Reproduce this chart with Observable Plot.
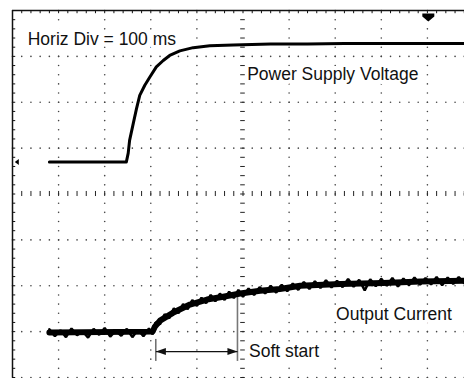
<!DOCTYPE html>
<html>
<head>
<meta charset="utf-8">
<script src="https://cdn.jsdelivr.net/npm/d3@7"></script>
<script src="https://cdn.jsdelivr.net/npm/@observablehq/plot@0.6"></script>
<style>
  html, body { margin: 0; padding: 0; background: #fff; }
  #chart svg { display: block; }
</style>
</head>
<body>
<div id="chart"></div>
<script>
// Scope capture, units are screen divisions (x: 100 ms/div, y: volts or amps/div).

// Channel 1: power supply voltage
const supplyTime    = [0.80, 2.47, 2.51, 2.54, 2.62, 2.69, 2.76, 2.87, 2.98, 3.12, 3.27, 3.41, 3.63, 3.92, 4.28, 4.79, 5.60, 6.40, 7.20, 8.00, 8.80, 9.80];
const supplyVoltage = [0.70, 0.70, 0.89, 1.17, 1.54, 1.86, 2.15, 2.37, 2.55, 2.77, 2.91, 3.02, 3.12, 3.19, 3.23, 3.25, 3.27, 3.27, 3.28, 3.28, 3.28, 3.28];

// Channel 2: output current, smoothed trend
const currentTime  = [0.80, 3.04, 3.09, 3.20, 3.48, 3.85, 4.22, 4.57, 4.94, 5.37, 5.80, 6.24, 7.11, 8.04, 8.85, 9.90];
const currentLevel = [-3.02, -3.00, -2.89, -2.76, -2.59, -2.41, -2.30, -2.24, -2.17, -2.11, -2.07, -2.00, -1.96, -1.94, -1.91, -1.89];

// Channel 2: raw samples (noisy)
const rawTime = [0.80, 0.92, 1.04, 1.16, 1.28, 1.40, 1.52, 1.64, 1.76, 1.88, 2.00, 2.12, 2.24, 2.36, 2.48, 2.60, 2.72, 2.84, 2.96, 3.04,
  3.10, 3.20, 3.30, 3.40, 3.50, 3.60, 3.70, 3.80, 3.90, 4.00, 4.10, 4.20, 4.30, 4.40, 4.50, 4.60, 4.70, 4.80, 4.90, 5.00,
  5.12, 5.24, 5.36, 5.48, 5.60, 5.72, 5.84, 5.96, 6.08, 6.20, 6.32, 6.44, 6.56, 6.68, 6.80, 6.92, 7.04, 7.16, 7.28, 7.40,
  7.52, 7.64, 7.76, 7.88, 8.00, 8.12, 8.24, 8.36, 8.48, 8.60, 8.72, 8.84, 8.96, 9.08, 9.20, 9.32, 9.44, 9.56, 9.68, 9.80, 9.92];
const rawLevel = [-2.95, -3.10, -2.97, -3.12, -2.93, -3.08, -2.99, -3.13, -2.94, -3.07, -2.92, -3.11, -2.98, -3.09, -2.94, -3.12, -2.96, -3.10, -2.93, -3.06,
  -2.80, -2.84, -2.62, -2.71, -2.49, -2.60, -2.40, -2.51, -2.31, -2.44, -2.26, -2.38, -2.20, -2.34, -2.17, -2.31, -2.13, -2.27, -2.09, -2.24,
  -2.06, -2.20, -2.03, -2.17, -2.00, -2.15, -1.98, -2.12, -1.95, -2.09, -1.92, -2.07, -1.90, -2.05, -1.88, -2.04, -1.89, -2.03, -1.85, -2.02,
  -1.87, -2.10, -1.86, -2.01, -1.85, -2.00, -1.83, -2.02, -1.84, -1.99, -1.82, -1.98, -1.83, -1.97, -1.81, -1.99, -1.82, -1.96, -1.81, -1.95, -1.83];

// Soft-start interval (start/end time) and where its arrow sits
const softStart = [3.11, 4.88];
const softArrowLevel = -3.435;

// Text annotations
const labelText = ["Horiz Div = 100 ms", "Power Supply Voltage", "Output Current", "Soft start"];
const labelTime = [0.33, 5.09, 7.02, 5.13];
const labelLevel = [3.36, 2.60, -2.62, -3.43];

// Trigger / reference markers
const triggerTime = 9.02;
const ch1Ground = 0.70;

const supply = supplyTime.map((x, i) => ({x, y: supplyVoltage[i]}));
const trend = currentTime.map((x, i) => ({x, y: currentLevel[i]}));
const raw = rawTime.map((x, i) => ({x, y: rawLevel[i]}));
const labels = labelText.map((text, i) => ({text, x: labelTime[i], y: labelLevel[i]}));

// Graticule: 10 x 8 divisions, 5 minor steps per division
const minorX = d3.range(0, 50).map(i => i / 5);
const minorY = d3.range(0, 41).map(i => -4 + i / 5);
const gridDots = [];
for (const k of [1, 2, 3, 4, 6, 7, 8, 9]) for (const y of minorY) gridDots.push({x: k, y});
for (const k of [-4, -3, -2, -1, 1, 2, 3]) for (const x of minorX) gridDots.push({x, y: k});

// Arrowhead pointing right with its tip at the anchor
const arrowHead = {draw(ctx) { ctx.moveTo(0, 0); ctx.lineTo(-10, -3.5); ctx.lineTo(-10, 3.5); ctx.closePath(); }};
// Trigger marker pointing down with its tip at the anchor
const triggerShape = {draw(ctx) { ctx.moveTo(-6, -8); ctx.lineTo(6, -8); ctx.lineTo(6, -5); ctx.lineTo(0, 0); ctx.lineTo(-6, -5); ctx.closePath(); }};
// Small reference pointer
const pointer = {draw(ctx) { ctx.moveTo(0, 0); ctx.lineTo(-4, -3); ctx.lineTo(-4, 3); ctx.closePath(); }};

const chart = Plot.plot({
  width: 464,
  height: 378,
  marginLeft: 12,
  marginRight: -9,
  marginTop: 10,
  marginBottom: 1,
  x: {domain: [0, 10], axis: null},
  y: {domain: [-4, 4], axis: null},
  style: {background: "#fff", fontFamily: "'Liberation Sans', Arial, sans-serif"},
  marks: [
    // dotted graticule
    Plot.dot(gridDots, {x: "x", y: "y", r: 0.8, fill: "#444", stroke: null}),
    // labels on white halos
    Plot.text(labels, {x: "x", y: "y", text: "text", textAnchor: "start", lineAnchor: "middle", fontSize: 17.5, fill: "#111", stroke: "#fff", strokeWidth: 8}),
    // centre axes with minor ticks
    Plot.ruleX(minorX, {x: d => d, y1: -0.055, y2: 0.055, stroke: "#222", strokeWidth: 1}),
    Plot.ruleY(minorY, {y: d => d, x1: 4.95, x2: 5.05, stroke: "#222", strokeWidth: 1}),
    // top and left border with ticks
    Plot.ruleY([4], {stroke: "#111", strokeWidth: 1.5}),
    Plot.ruleX([0], {stroke: "#111", strokeWidth: 1.5}),
    Plot.ruleX(minorX, {x: d => d, y1: 4, y2: 3.93, stroke: "#111", strokeWidth: 1}),
    Plot.ruleY(minorY, {y: d => d, x1: 0, x2: 0.07, stroke: "#111", strokeWidth: 1}),
    // soft-start annotation
    Plot.ruleX([softStart[1]], {y1: -2.17, y2: -3.65, stroke: "#777", strokeWidth: 1.6}),
    Plot.ruleX([softStart[0]], {y1: -3.17, y2: -3.65, stroke: "#222", strokeWidth: 1}),
    Plot.link([softStart], {x1: d => d[0], x2: d => d[1], y1: softArrowLevel, y2: softArrowLevel, stroke: "#111", strokeWidth: 1.2}),
    Plot.dot([softStart[1]], {x: d => d, y: softArrowLevel, symbol: arrowHead, fill: "#111", stroke: null, r: 4}),
    Plot.dot([softStart[0]], {x: d => d, y: softArrowLevel, symbol: arrowHead, rotate: 180, fill: "#111", stroke: null, r: 4}),
    // channel traces
    Plot.line(supply, {x: "x", y: "y", stroke: "#000", strokeWidth: 3}),
    Plot.line(trend, {x: "x", y: "y", stroke: "#000", strokeWidth: 6}),
    Plot.line(raw, {x: "x", y: "y", stroke: "#000", strokeWidth: 2.5, strokeLinejoin: "miter"}),
    // markers
    Plot.dot([triggerTime], {x: d => d, y: 3.76, symbol: triggerShape, fill: "#000", stroke: null, r: 4}),
    Plot.dot([ch1Ground], {x: 0.05, y: d => d, symbol: pointer, rotate: 180, fill: "#000", stroke: null, r: 3}),
    Plot.dot([0], {x: 9.78, y: d => d, symbol: pointer, rotate: 180, fill: "#000", stroke: null, r: 3})
  ]
});

document.getElementById("chart").appendChild(chart);
</script>
</body>
</html>
